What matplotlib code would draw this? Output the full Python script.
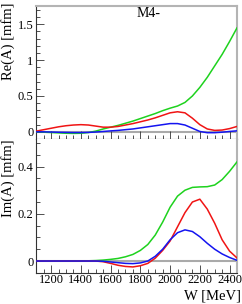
import matplotlib
matplotlib.use("Agg")
import matplotlib.pyplot as plt
from matplotlib.ticker import MultipleLocator

W = [1100, 1150, 1200, 1250, 1300, 1350, 1400, 1450, 1500, 1550, 1600, 1650, 1700, 1750,
     1800, 1850, 1900, 1950, 2000, 2050, 2100, 2150, 2200, 2250, 2300, 2350, 2400, 2450]

re_green = [0.0, -0.005, -0.01, -0.015, -0.02, -0.022, -0.02, -0.01, 0.01, 0.04, 0.065, 0.09,
            0.12, 0.15, 0.185, 0.22, 0.255, 0.295, 0.33, 0.36, 0.41, 0.50, 0.62, 0.76, 0.92,
            1.08, 1.26, 1.45]
re_red = [0.01, 0.03, 0.05, 0.07, 0.085, 0.095, 0.10, 0.095, 0.08, 0.065, 0.065, 0.075, 0.095,
          0.115, 0.14, 0.165, 0.195, 0.23, 0.265, 0.28, 0.265, 0.19, 0.10, 0.04, 0.02, 0.025,
          0.045, 0.075]
re_blue = [0.0, 0.0, -0.003, -0.006, -0.008, -0.01, -0.01, -0.008, -0.003, 0.005, 0.013, 0.02,
           0.03, 0.04, 0.055, 0.07, 0.085, 0.10, 0.115, 0.115, 0.095, 0.05, 0.005, -0.012,
           -0.012, -0.005, 0.005, 0.014]

im_green = [0.0, 0.0, 0.0, 0.0, 0.0, 0.0, 0.0, 0.001, 0.002, 0.004, 0.007, 0.011, 0.018, 0.028,
            0.045, 0.07, 0.11, 0.165, 0.228, 0.275, 0.3, 0.312, 0.314, 0.315, 0.322, 0.345,
            0.38, 0.42]
im_red = [0.0, 0.0, 0.0, 0.0, 0.0, 0.0, 0.0, 0.0, 0.0, -0.003, -0.01, -0.018, -0.023, -0.025,
          -0.02, -0.01, 0.012, 0.045, 0.085, 0.145, 0.205, 0.25, 0.262, 0.22, 0.16, 0.09,
          0.042, 0.013]
im_blue = [0.0, 0.0, 0.0, 0.0, 0.0, 0.0, 0.0, 0.0, 0.0, -0.001, -0.004, -0.007, -0.01, -0.011,
           -0.008, 0.0, 0.02, 0.05, 0.09, 0.12, 0.132, 0.125, 0.103, 0.075, 0.05, 0.03, 0.015,
           0.003]

xticks = [1200, 1400, 1600, 1800, 2000, 2200, 2400]

plt.rcParams['font.family'] = ['Liberation Serif', 'DejaVu Serif']
plt.rcParams['lines.solid_joinstyle'] = 'round'

fig = plt.figure(figsize=(2.42, 3.04), dpi=100)
L, R = 36.3 / 242, 237 / 242
ax1 = fig.add_axes([L, 1 - 139 / 304, R - L, (139 - 6) / 304])
ax2 = fig.add_axes([L, 1 - 273.3 / 304, R - L, (273.3 - 139) / 304])

GREEN, RED, BLUE = '#1ed21e', '#f01414', '#1414f0'
FRAME = '#b4b4b4'

for ax, g, r, b in ((ax1, re_green, re_red, re_blue), (ax2, im_green, im_red, im_blue)):
    ax.axhline(0, color='#aaaaaa', lw=1.5, zorder=1)
    ax.plot(W, g, color=GREEN, lw=1.1, zorder=3)
    ax.plot(W, r, color=RED, lw=1.1, zorder=3)
    ax.plot(W, b, color=BLUE, lw=1.1, zorder=3)
    ax.set_xlim(1100, 2450)
    ax.set_xticks(xticks)
    ax.xaxis.set_minor_locator(MultipleLocator(50))
    for s in ('top', 'right'):
        ax.spines[s].set_color(FRAME)
        ax.spines[s].set_linewidth(1.5)
    for s in ('left', 'bottom'):
        ax.spines[s].set_color('#333333')
        ax.spines[s].set_linewidth(0.8)
    ax.tick_params(which='both', direction='in', top=False, right=False, colors='#333333',
                   labelsize=9, labelcolor='black', width=0.6)
    ax.tick_params(which='major', length=5.5, pad=2)
    ax.tick_params(which='minor', length=3)

ax1.set_ylim(-0.1, 1.755)
ax1.set_yticks([0, 0.5, 1, 1.5])
ax1.set_yticklabels(['0', '0.5', '1', '1.5'])
ax1.yaxis.set_minor_locator(MultipleLocator(0.1))
ax1.tick_params(axis='x', labelbottom=False)

ax2.set_ylim(-0.052, 0.517)
ax2.set_yticks([0, 0.2, 0.4])
ax2.set_yticklabels(['0', '0.2', '0.4'])
ax2.yaxis.set_minor_locator(MultipleLocator(0.05))
ax2.spines['top'].set_visible(False)
ax2.tick_params(axis='x', pad=0.8)

fig.text(8.5 / 242, 1 - 2 / 304, 'Re(A) [mfm]', rotation=90, ha='center', va='top', fontsize=10.5)
fig.text(8.5 / 242, 1 - 139 / 304, 'Im(A) [mfm]', rotation=90, ha='center', va='top', fontsize=10.5)
fig.text(240.5 / 242, 1 - 296.5 / 304, 'W [MeV]', ha='right', va='center', fontsize=10.5)
fig.text(149 / 242, 1 - 13.5 / 304, 'M4-', ha='center', va='center', fontsize=10)

fig.savefig('out.png', dpi=100)
